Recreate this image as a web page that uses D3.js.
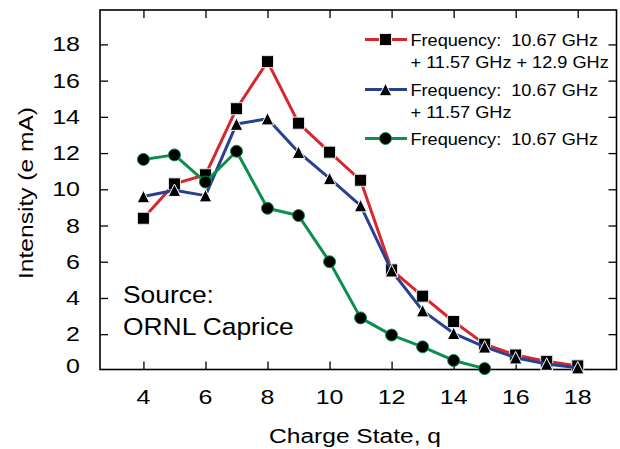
<!DOCTYPE html>
<html>
<head>
<meta charset="utf-8">
<script src="https://cdn.jsdelivr.net/npm/d3@7"></script>
<style>
	body { margin: 0; background: #fff; }
	text { font-family: "Liberation Sans", Arial, sans-serif; fill: #000; }
</style>
</head>
<body>
<svg width="620" height="449"></svg>
<script>
'use strict';
// data
let aCharge = [4, 5, 6, 7, 8, 9, 10, 11, 12, 13, 14, 15, 16, 17, 18]
let aFreq3 = [8.4, 10.3, 10.8, 14.45, 17.05, 13.65, 12.05, 10.5, 5.55, 4.1, 2.7, 1.45, 0.85, 0.5, 0.25]
let aFreq2 = [9.6, 9.95, 9.65, 13.6, 13.9, 12.05, 10.6, 9.1, 5.5, 3.3, 2.05, 1.3, 0.7, 0.35, 0.15]
let aFreq1 = [11.65, 11.9, 10.4, 12.1, 8.95, 8.55, 6.0, 2.9, 1.95, 1.3, 0.55, 0.1]
let aXTicks = [4, 6, 8, 10, 12, 14, 16, 18]
let aYTicks = [0, 2, 4, 6, 8, 10, 12, 14, 16, 18]
let aLegend = [
	["Frequency:  10.67 GHz", "+ 11.57 GHz + 12.9 GHz"],
	["Frequency:  10.67 GHz", "+ 11.57 GHz"],
	["Frequency:  10.67 GHz"]]

let eSvg = d3.select("svg")
let dLeft = 100, dRight = 616.5, dTop = 10, dBottom = 369.5

let x = d3.scaleLinear().domain([2.6, 19.25]).range([dLeft, dRight])
let y = d3.scaleLinear().domain([0.05, 19.9]).range([dBottom, dTop])

// triangle a bit taller than an equilateral one
let symTri = {draw(ctx, size) {
	let h = Math.sqrt(size)
	ctx.moveTo(0, -h / 2)
	ctx.lineTo(h / 2, h / 2)
	ctx.lineTo(-h / 2, h / 2)
	ctx.closePath()}}

let aSeries = [
	{vals: aFreq3, color: "#d6262e", sym: d3.symbolSquare, size: 144, edge: "#e8e8e8"},
	{vals: aFreq2, color: "#28408f", sym: symTri, size: 156, edge: "#ffffff"},
	{vals: aFreq1, color: "#0a8f4c", sym: d3.symbolCircle, size: 113, edge: "#0a8f4c"}]

// text in the picture is wider than Arial, so stretch it
function sText(g, str, tx, ty, size, sx, anchor, rot) {
	return g.append("text")
		.attr("transform", `translate(${tx},${ty})` + (rot ? ` rotate(${rot})` : "") + ` scale(${sx},1)`)
		.attr("text-anchor", anchor)
		.style("font-size", size + "px")
		.style("white-space", "pre")
		.text(str)}

// inward ticks on all four sides
eSvg.append("g").attr("transform", `translate(0,${dBottom})`)
	.call(d3.axisBottom(x).tickValues(aXTicks).tickSizeInner(-8).tickSizeOuter(0).tickFormat(""))
eSvg.append("g").attr("transform", `translate(0,${dTop})`)
	.call(d3.axisTop(x).tickValues(aXTicks).tickSizeInner(-8).tickSizeOuter(0).tickFormat(""))
eSvg.append("g").attr("transform", `translate(${dLeft},0)`)
	.call(d3.axisLeft(y).tickValues(aYTicks.slice(1)).tickSizeInner(-8).tickSizeOuter(0).tickFormat(""))
eSvg.append("g").attr("transform", `translate(${dRight},0)`)
	.call(d3.axisRight(y).tickValues(aYTicks.slice(1)).tickSizeInner(-8).tickSizeOuter(0).tickFormat(""))
eSvg.selectAll(".domain").remove()
eSvg.selectAll(".tick line").attr("stroke", "#000").attr("stroke-width", 1.3)

eSvg.append("rect")
	.attr("x", dLeft).attr("y", dTop)
	.attr("width", dRight - dLeft).attr("height", dBottom - dTop)
	.attr("fill", "none").attr("stroke", "#000").attr("stroke-width", 1.6)

// tick labels (the 0 sits just above the bottom edge)
let eLab = eSvg.append("g")
aXTicks.forEach(d => { sText(eLab, String(d), x(d), dBottom + 34.5, 20, 1.25, "middle") })
aYTicks.forEach(d => {
	sText(eLab, String(d), 80, Math.min(y(d), dBottom - 3.5), 20, 1.25, "end").attr("dy", "0.35em") })

// axis titles
sText(eSvg, "Charge State, q", 355, 443, 21, 1.17, "middle")
sText(eSvg, "Intensity (e mA)", 33, 193, 21, 1.17, "middle", -90)

// series
let line = d3.line().x((d, i) => x(aCharge[i])).y(d => y(d))
aSeries.forEach(s => {
	let g = eSvg.append("g")
	g.append("path").datum(s.vals)
		.attr("d", line)
		.attr("fill", "none").attr("stroke", s.color)
		.attr("stroke-width", 3).attr("stroke-linejoin", "round")
	g.selectAll("path.mk").data(s.vals).enter().append("path")
		.attr("class", "mk")
		.attr("transform", (d, i) => `translate(${x(aCharge[i])},${y(d)})`)
		.attr("d", d3.symbol().type(s.sym).size(s.size))
		.attr("fill", "#000").attr("stroke", s.edge).attr("stroke-width", 1)})

// legend
let aLegY = [39.5, 89.5, 138.5]
let eLeg = eSvg.append("g")
aSeries.forEach((s, i) => {
	eLeg.append("line")
		.attr("x1", 365).attr("x2", 407)
		.attr("y1", aLegY[i]).attr("y2", aLegY[i])
		.attr("stroke", s.color).attr("stroke-width", 3)
	eLeg.append("path")
		.attr("transform", `translate(385.5,${aLegY[i]})`)
		.attr("d", d3.symbol().type(s.sym).size(s.size))
		.attr("fill", "#000").attr("stroke", s.edge).attr("stroke-width", 1)
	aLegend[i].forEach((t, j) => {
		sText(eLeg, t, 410.5, aLegY[i] + 6.8 + j * 21.3, 16.5, 1.1, "start")})})

// source note
sText(eSvg, "Source:", 123, 303, 24, 1.1, "start")
sText(eSvg, "ORNL Caprice", 123, 335, 24, 1.1, "start")
</script>
</body>
</html>
